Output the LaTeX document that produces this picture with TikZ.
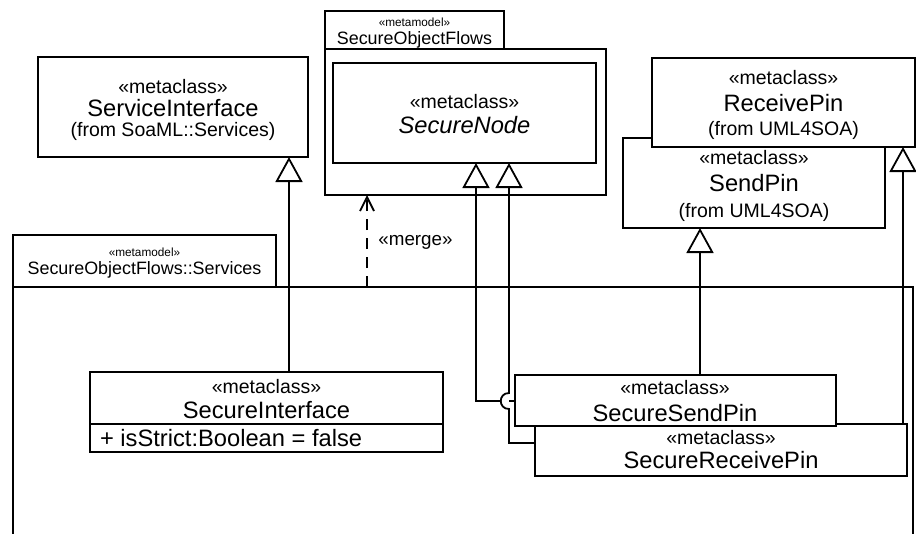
\documentclass[tikz,border=0pt]{standalone}
\usepackage{fontspec}
\setmainfont{Liberation Sans}
\usetikzlibrary{arrows.meta,calc}

\newcommand\fname{\fontsize{23.7}{26}\selectfont}
\newcommand\fnote{\fontsize{19.5}{22}\selectfont}
\newcommand\ftab{\fontsize{17.9}{20}\selectfont}
\newcommand\ftiny{\fontsize{11.8}{13}\selectfont}
\newcommand\fmerge{\fontsize{18.8}{21}\selectfont}

\tikzset{
  umlbox/.style={draw, fill=white, rectangle, anchor=north west, inner sep=0pt, outer sep=0pt},
  txt/.style={inner sep=0pt, outer sep=0pt, anchor=center},
  gen/.style={-{Triangle[open, length=25pt, width=27pt]}},
  mergearrow/.style={-{Straight Barb[length=14pt, width=14pt]}, dash pattern=on 11pt off 8pt}
}

\begin{document}
\begin{tikzpicture}[x=1pt, y=-1pt, line width=1.8pt, line join=miter]
\useasboundingbox (0,0) rectangle (916,533);

% package SecureObjectFlows::Services (open at the bottom)
\coordinate (pkgBtl) at (13,287);
\coordinate (pkgBtr) at (913,287);
\draw (13,534) -- (pkgBtl) -- (pkgBtr) -- (913,534);
\node[umlbox, minimum width=263pt, minimum height=52pt] (pkgBtab) at (13,235) {};
\node[txt] (pkgBst) at (144.5,252) {\ftiny «metamodel»};
\node[txt] (pkgBnm) at (144.5,270) {\ftab SecureObjectFlows::Services};

% package SecureObjectFlows
\node[umlbox, minimum width=179pt, minimum height=38pt] (pkgAtab) at (325,11) {};
\node[umlbox, minimum width=281pt, minimum height=146pt] (pkgA) at (325,49) {};
\node[txt] (pkgAst) at (414.5,22) {\ftiny «metamodel»};
\node[txt] (pkgAnm) at (414.5,40) {\ftab SecureObjectFlows};

\node[umlbox, minimum width=263pt, minimum height=100pt] (snode) at (333,63) {};
\node[txt] (snodest) at (464.5,102) {\fnote «metaclass»};
\node[txt] (snodenm) at (464.5,125) {\fname\itshape SecureNode};

% imported metaclasses
\node[umlbox, minimum width=270pt, minimum height=100pt] (servint) at (38,57) {};
\node[txt] (servintst) at (173,87) {\fnote «metaclass»};
\node[txt] (servintnm) at (173,108) {\fname ServiceInterface};
\node[txt] (servintfr) at (173,131) {\fnote (from SoaML::Services)};

\node[umlbox, minimum width=262pt, minimum height=90pt] (sendpin) at (623,138) {};
\node[umlbox, minimum width=263pt, minimum height=89pt] (recvpin) at (652,58) {};
\node[txt] (recvst) at (783.5,78) {\fnote «metaclass»};
\node[txt] (recvnm) at (783.5,103) {\fname ReceivePin};
\node[txt] (recvfr) at (783.5,130) {\fnote (from UML4SOA)};
\node[txt] (sendst) at (754,158) {\fnote «metaclass»};
\node[txt] (sendnm) at (754,183) {\fname SendPin};
\node[txt] (sendfr) at (754,212) {\fnote (from UML4SOA)};

% classes of the Services package
\node[umlbox, minimum width=353pt, minimum height=80pt] (secint) at (90,372) {};
\draw ($(secint.north west)+(0,52)$) -- ($(secint.north east)+(0,52)$);
\node[txt] (secintst) at (266.5,387) {\fnote «metaclass»};
\node[txt] (secintnm) at (266.5,410) {\fname SecureInterface};
\node[txt, anchor=west] (secintat) at (100,438) {\fname + isStrict:Boolean = false};

\node[umlbox, minimum width=372pt, minimum height=52pt] (srecv) at (535,424) {};
\node[umlbox, minimum width=321pt, minimum height=51pt] (ssend) at (515,375) {};
\node[txt] (ssendst) at (675,388) {\fnote «metaclass»};
\node[txt] (ssendnm) at (675,413) {\fname SecureSendPin};
\node[txt] (srecvst) at (721,438) {\fnote «metaclass»};
\node[txt] (srecvnm) at (721,460) {\fname SecureReceivePin};

% merge dependency
\coordinate (mx) at (367,0);
\draw[mergearrow] (pkgBtl -| mx) -- (pkgA.south -| mx);
\node[txt] (mergelbl) at (415.5,242) {\fmerge «merge»};

% generalizations
\coordinate (gx1) at (289,0);
\draw[gen] (secint.north -| gx1) -- (servint.south -| gx1);

\coordinate (gx2) at (700,0);
\draw[gen] (ssend.north -| gx2) -- (sendpin.south -| gx2);

\coordinate (gx3) at (903,0);
\draw[gen] (srecv.north -| gx3) -- (recvpin.south -| gx3);

\coordinate (gx4) at (476,0);
\coordinate (gx5) at (509,0);
\coordinate (hy) at (0,401);
\coordinate (ry) at (0,443);
% SecureSendPin -> SecureNode
\draw (ssend.west |- hy) -- (gx5 |- hy);
\draw[gen] ($(gx5 |- hy)+(-9,0)$) -- (gx4 |- hy) -- (snode.south -| gx4);
% SecureReceivePin -> SecureNode, hopping over the line above
\draw[gen] (srecv.west |- ry) -- (gx5 |- ry) -- ($(gx5 |- hy)+(0,8)$)
  .. controls ($(gx5 |- hy)+(-11,8)$) and ($(gx5 |- hy)+(-11,-8)$) .. ($(gx5 |- hy)+(0,-8)$)
  -- (snode.south -| gx5);
\end{tikzpicture}
\end{document}
